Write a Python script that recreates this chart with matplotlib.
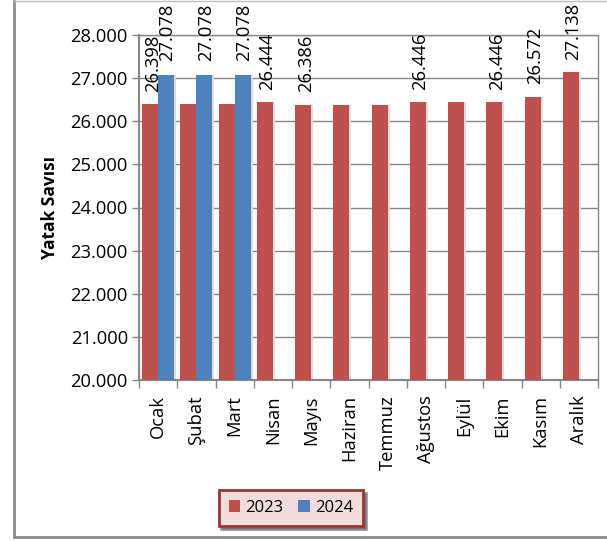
import matplotlib
matplotlib.use("Agg")
import matplotlib.pyplot as plt
from matplotlib.lines import Line2D
import numpy as np

months = ["Ocak", "Şubat", "Mart", "Nisan", "Mayıs", "Haziran", "Temmuz",
          "Ağustos", "Eylül", "Ekim", "Kasım", "Aralık"]
values_2023 = [26398, 26398, 26398, 26444, 26386, 26386, 26386,
               26446, 26446, 26446, 26572, 27138]
values_2024 = [27078, 27078, 27078]
labels_2023 = [True, False, False, True, True, False, False,
               True, False, True, True, True]
labels_2024 = [True, True, True]
yticks = [20000, 21000, 22000, 23000, 24000, 25000, 26000, 27000, 28000]

RED = "#C0504D"
BLUE = "#4F81BD"
GRID = "#868686"
FONT = "Open Sans"
FS = 13.2

def fmt(v):
    return f"{v:,.0f}".replace(",", ".")

W, H = 607, 541
fig = plt.figure(figsize=(W / 100, H / 100), dpi=100)
ax = fig.add_axes([139 / W, 1 - 380 / H, (598 - 139) / W, (380 - 35) / H])

x = np.arange(len(months))
bw = 0.42
off = 0.21
# shadows
ax.bar(x - off + 0.05, np.array(values_2023) - 20000, bw, bottom=20000,
       color="#dcdcdc", zorder=2, linewidth=0)
ax.bar(x[:len(values_2024)] + off + 0.05, np.array(values_2024) - 20000, bw,
       bottom=20000, color="#dcdcdc", zorder=2, linewidth=0)
b1 = ax.bar(x - off, np.array(values_2023) - 20000, bw, bottom=20000,
            color=RED, zorder=3, linewidth=0, label="2023")
b2 = ax.bar(x[:len(values_2024)] + off, np.array(values_2024) - 20000, bw,
            bottom=20000, color=BLUE, zorder=3, linewidth=0, label="2024")

for i, v in enumerate(values_2023):
    if labels_2023[i]:
        ax.annotate(fmt(v), (x[i] - off, v), xytext=(2, 9),
                    textcoords="offset points", rotation=90, ha="center",
                    va="bottom", fontsize=FS, family=FONT, color="#000000",
                    annotation_clip=False, zorder=5)
for i, v in enumerate(values_2024):
    if labels_2024[i]:
        ax.annotate(fmt(v), (x[i] + off, v), xytext=(1, 10),
                    textcoords="offset points", rotation=90, ha="center",
                    va="bottom", fontsize=FS, family=FONT, color="#000000",
                    annotation_clip=False, zorder=5)

ax.set_ylim(20000, 28000)
ax.set_xlim(-0.5, len(months) - 0.5)
ax.set_yticks(yticks)
ax.set_yticklabels([fmt(t) for t in yticks], fontsize=FS, family=FONT)
ax.yaxis.grid(True, color=GRID, linewidth=1, zorder=0)
ax.set_axisbelow(True)

ax.set_xticks(x)
ax.set_xticklabels(months, rotation=90, fontsize=FS, family=FONT, va="top")
ax.tick_params(axis="x", length=0, pad=11)
ax.set_xticks(np.arange(-0.5, len(months) + 0.5, 1), minor=True)
ax.tick_params(axis="x", which="minor", length=6, color=GRID, width=1)
ax.tick_params(axis="y", length=5, color=GRID, width=1, pad=3)
for s in ax.spines.values():
    s.set_color(GRID)
    s.set_linewidth(1)
ax.spines["left"].set_linewidth(1.5)
ax.spines["bottom"].set_linewidth(1.5)

ax.set_ylabel("Yatak Savısı", fontsize=12.5, family=FONT, fontweight="bold",
              labelpad=8)

leg = fig.legend(handles=[b1, b2], labels=["2023", "2024"],
                 loc="center", bbox_to_anchor=(291 / W, 1 - 508 / H),
                 ncol=2, frameon=True, fancybox=False, shadow=True,
                 prop={"family": FONT, "size": 12}, handlelength=0.7,
                 handleheight=0.7, handletextpad=0.3, columnspacing=0.9,
                 borderpad=0.6)
fr = leg.get_frame()
fr.set_facecolor("#F2DCDB")
fr.set_edgecolor("#953735")
fr.set_linewidth(2)
fr.set_alpha(1)

# outer chart border
fig.add_artist(Line2D([13.5 / W, 13.5 / W], [1 - 537 / H, 1 - 1 / H],
                      transform=fig.transFigure, color="#8c8c8c", lw=2))
fig.add_artist(Line2D([13.5 / W, 1.0], [1 - 537 / H, 1 - 537 / H],
                      transform=fig.transFigure, color="#8c8c8c", lw=2))
fig.add_artist(Line2D([13.5 / W, 1.0], [1 - 1 / H, 1 - 1 / H],
                      transform=fig.transFigure, color="#bfbfbf", lw=1))

fig.savefig("out.png", dpi=100)
